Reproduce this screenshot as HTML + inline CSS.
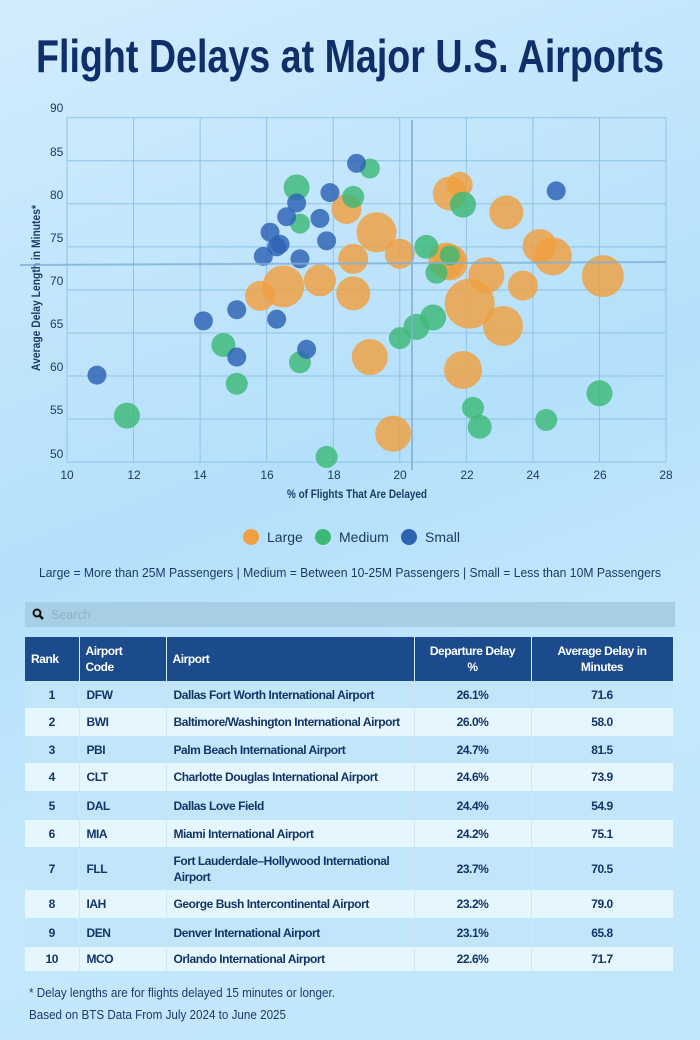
<!DOCTYPE html>
<html><head><meta charset="utf-8">
<style>
html,body{margin:0;padding:0}
body{width:700px;height:1040px;overflow:hidden;background:linear-gradient(160deg,#d2ecfc 0%,#b4e0fb 45%,#c4e8fc 70%,#bfe6fb 100%);font-family:"Liberation Sans",sans-serif;position:relative}
svg{position:absolute;left:0;top:0}
table{position:absolute;left:25px;top:637px;width:648px;border-collapse:collapse;font-family:"Liberation Sans",sans-serif;font-weight:bold;font-size:12px;letter-spacing:-0.45px;color:#123466;table-layout:fixed}
th{background:#1b4b8c;color:#fff;font-size:12px;height:44px;border-right:1px solid #d8ecf8;padding:0 6px;line-height:16px;box-sizing:border-box}
td{padding:0 7px;border-right:1px solid #cfe6f4;line-height:16px;white-space:nowrap;box-sizing:border-box;overflow:hidden}
tr.o td{background:#c2e6f9}
tr.e td{background:#e5f6fe}
.c{text-align:center}
</style></head><body>
<svg width="700" height="1040" xmlns="http://www.w3.org/2000/svg" id="s">
<text x="350" y="72" text-anchor="middle" font-family="Liberation Sans Narrow, Liberation Sans, sans-serif" font-weight="bold" font-size="46" fill="#0f2f6a" textLength="628" lengthAdjust="spacingAndGlyphs">Flight Delays at Major U.S. Airports</text>
<g stroke="#8fc3e6" stroke-width="1" id="grid"></g>
<g font-family="Liberation Sans, sans-serif" font-size="12" fill="#1d3a66">
<text x="50" y="112">90</text><text x="50" y="156">85</text><text x="50" y="199">80</text><text x="50" y="242">75</text><text x="50" y="285">70</text><text x="50" y="328">65</text><text x="50" y="371">60</text><text x="50" y="414">55</text><text x="50" y="458">50</text>
<g text-anchor="middle"><text x="67" y="479">10</text><text x="134" y="479">12</text><text x="200" y="479">14</text><text x="267" y="479">16</text><text x="334" y="479">18</text><text x="400" y="479">20</text><text x="467" y="479">22</text><text x="533" y="479">24</text><text x="600" y="479">26</text><text x="666" y="479">28</text></g>
<text x="357" y="498" text-anchor="middle" font-weight="bold" textLength="140" lengthAdjust="spacingAndGlyphs">% of Flights That Are Delayed</text>
<text transform="translate(40,288) rotate(-90)" text-anchor="middle" font-weight="bold" textLength="166" lengthAdjust="spacingAndGlyphs">Average Delay Length in Minutes*</text>
</g>
<g id="bub"></g>
<line x1="20" y1="265" x2="666" y2="262" stroke="#7fb0d6" stroke-width="2" opacity="0.8"/>
<line x1="412" y1="120" x2="412" y2="470" stroke="#7fb0d6" stroke-width="2" opacity="0.8"/>
<g font-family="Liberation Sans, sans-serif" font-size="14" fill="#1d3a66">
<circle cx="251" cy="537" r="8" fill="#f0a040"/><text x="267" y="542">Large</text>
<circle cx="323" cy="537" r="8" fill="#3db876"/><text x="339" y="542">Medium</text>
<circle cx="409" cy="537" r="8" fill="#2d62b3"/><text x="425" y="542">Small</text>
<text x="350" y="577" text-anchor="middle" font-size="12.5" textLength="622" lengthAdjust="spacingAndGlyphs">Large = More than 25M Passengers  |  Medium = Between 10-25M Passengers  |  Small = Less than 10M Passengers</text>
</g>
<rect x="25" y="602" width="650" height="25" fill="#a6cfe6"/>
<circle cx="37" cy="613" r="3.5" fill="none" stroke="#111" stroke-width="2"/><line x1="39.5" y1="615.5" x2="43" y2="619" stroke="#111" stroke-width="2.5"/>
<text x="51" y="619" font-family="Liberation Sans, sans-serif" font-size="12.5" fill="#8fb0c4">Search</text>
<g font-family="Liberation Sans, sans-serif" font-size="13" fill="#1d3a66">
<text x="29" y="997" textLength="306" lengthAdjust="spacingAndGlyphs">* Delay lengths are for flights delayed 15 minutes or longer.</text>
<text x="29" y="1019" textLength="257" lengthAdjust="spacingAndGlyphs">Based on BTS Data From July 2024 to June 2025</text>
</g>
</svg>
<table>
<colgroup><col style="width:54px"><col style="width:87px"><col style="width:248px"><col style="width:117px"><col style="width:142px"></colgroup>
<tr><th style="text-align:left">Rank</th><th style="text-align:left">Airport<br>Code</th><th style="text-align:left">Airport</th><th>Departure Delay<br>%</th><th>Average Delay in<br>Minutes</th></tr>
<tr class="o" style="height:27px"><td class="c">1</td><td>DFW</td><td>Dallas Fort Worth International Airport</td><td class="c">26.1%</td><td class="c">71.6</td></tr>
<tr class="e" style="height:28px"><td class="c">2</td><td>BWI</td><td>Baltimore/Washington International Airport</td><td class="c">26.0%</td><td class="c">58.0</td></tr>
<tr class="o" style="height:27px"><td class="c">3</td><td>PBI</td><td>Palm Beach International Airport</td><td class="c">24.7%</td><td class="c">81.5</td></tr>
<tr class="e" style="height:28px"><td class="c">4</td><td>CLT</td><td>Charlotte Douglas International Airport</td><td class="c">24.6%</td><td class="c">73.9</td></tr>
<tr class="o" style="height:29px"><td class="c">5</td><td>DAL</td><td>Dallas Love Field</td><td class="c">24.4%</td><td class="c">54.9</td></tr>
<tr class="e" style="height:27px"><td class="c">6</td><td>MIA</td><td>Miami International Airport</td><td class="c">24.2%</td><td class="c">75.1</td></tr>
<tr class="o" style="height:43px"><td class="c">7</td><td>FLL</td><td>Fort Lauderdale–Hollywood International<br>Airport</td><td class="c">23.7%</td><td class="c">70.5</td></tr>
<tr class="e" style="height:28px"><td class="c">8</td><td>IAH</td><td>George Bush Intercontinental Airport</td><td class="c">23.2%</td><td class="c">79.0</td></tr>
<tr class="o" style="height:29px"><td class="c">9</td><td>DEN</td><td>Denver International Airport</td><td class="c">23.1%</td><td class="c">65.8</td></tr>
<tr class="e" style="height:20px"><td class="c" style="vertical-align:top;line-height:24px">10</td><td style="vertical-align:top;line-height:24px">MCO</td><td style="vertical-align:top;line-height:24px">Orlando International Airport</td><td class="c" style="vertical-align:top;line-height:24px">22.6%</td><td class="c" style="vertical-align:top;line-height:24px">71.7</td></tr>
</table>
<script>
var NS="http://www.w3.org/2000/svg";
function X(v){return 67+(v-10)*33.28}
function Y(v){return 117.7+(90-v)*8.61}
var g=document.getElementById("grid");
for(var i=0;i<=9;i++){var l=document.createElementNS(NS,"line");var x=X(10+2*i);l.setAttribute("x1",x);l.setAttribute("x2",x);l.setAttribute("y1",Y(90));l.setAttribute("y2",Y(50));g.appendChild(l);}
for(var j=0;j<=8;j++){var l=document.createElementNS(NS,"line");var y=Y(50+5*j);l.setAttribute("x1",67);l.setAttribute("x2",666);l.setAttribute("y1",y);l.setAttribute("y2",y);g.appendChild(l);}
var L=[[26.1,71.6,21],[24.6,73.9,19],[24.2,75.1,17],[23.7,70.5,15],[23.2,79,17],[23.1,65.8,20],[22.6,71.7,18],[22.1,68.4,25],[21.9,60.7,19],[21.8,82.2,13],[21.5,81.2,17],[21.5,73.2,18],[21.4,73.4,18],[20,74.2,15],[19.3,76.7,20],[19.1,62.2,18],[19.8,53.3,18],[18.6,69.6,17],[18.6,73.6,15],[18.4,79.4,15],[17.6,71.1,16],[16.5,70.4,21],[15.8,69.3,15]];
var M=[[26,58,13],[24.4,54.9,11],[22.4,54.1,12],[22.2,56.3,11],[21.9,79.9,13],[21.5,74,10],[21.1,72,11],[21,66.8,13],[20.8,75,12],[20.5,65.7,13],[20,64.4,11],[19.1,84.1,10],[18.6,80.8,11],[16.9,81.9,13],[17,77.7,10],[17,61.6,11],[17.8,50.6,11],[15.1,59.1,11],[14.7,63.6,12],[11.8,55.4,13]];
var S=[[24.7,81.5],[18.7,84.7],[17.9,81.3],[17.6,78.3],[17.8,75.7],[16.9,80.1],[16.6,78.5],[16.1,76.7],[16.4,75.3],[16.3,75],[15.9,73.9],[17,73.6],[15.1,67.7],[16.3,66.6],[14.1,66.4],[15.1,62.2],[17.2,63.1],[10.9,60.1]];
var b=document.getElementById("bub");
function add(a,c,r0){a.forEach(function(p){var e=document.createElementNS(NS,"circle");e.setAttribute("cx",X(p[0]));e.setAttribute("cy",Y(p[1]));e.setAttribute("r",p[2]||r0);e.setAttribute("fill",c);e.setAttribute("fill-opacity","0.82");b.appendChild(e);});}
add(L,"#f0a040");add(M,"#3db876");add(S,"#2d62b3",9.5);
</script>
</body></html>
